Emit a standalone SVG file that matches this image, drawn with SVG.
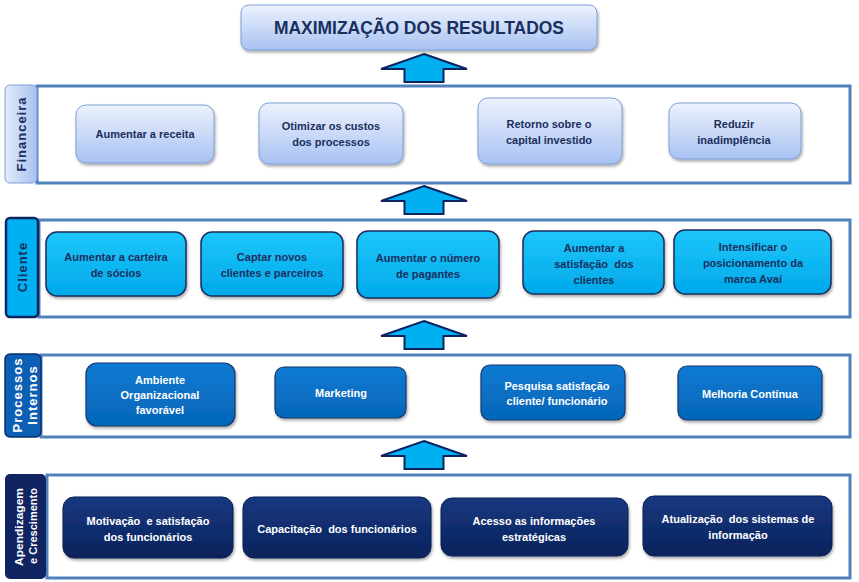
<svg xmlns="http://www.w3.org/2000/svg" width="859" height="582" viewBox="0 0 859 582">
<defs>
<linearGradient id="gLight" x1="0" y1="0" x2="0" y2="1"><stop offset="0" stop-color="#edf2fd"/><stop offset="1" stop-color="#a8c2f2"/></linearGradient>
<linearGradient id="gTabLight" x1="0" y1="0" x2="1" y2="0"><stop offset="0" stop-color="#e3ebfb"/><stop offset="1" stop-color="#a9c1ef"/></linearGradient>
<linearGradient id="gCyan" x1="0" y1="0" x2="0" y2="1"><stop offset="0" stop-color="#1ec6fa"/><stop offset="1" stop-color="#00a9ea"/></linearGradient>
<linearGradient id="gBlue" x1="0" y1="0" x2="0" y2="1"><stop offset="0" stop-color="#0c7ad2"/><stop offset="1" stop-color="#0566b8"/></linearGradient>
<linearGradient id="gNavy" x1="0" y1="0" x2="0" y2="1"><stop offset="0" stop-color="#173880"/><stop offset="1" stop-color="#0b235c"/></linearGradient>
<filter id="sh" x="-10%" y="-10%" width="125%" height="135%"><feDropShadow dx="1" dy="2" stdDeviation="1.5" flood-color="#000" flood-opacity="0.35"/></filter>
<path id="arrow" d="M0,0 L43,15 L19.5,15 L19.5,28 L-19.5,28 L-19.5,15 L-43,15 Z" fill="#00b0f0" stroke="#0b2460" stroke-width="2" stroke-linejoin="miter"/>
</defs>
<style>
.panel{fill:#ffffff;stroke:#4f81bd;stroke-width:3}
.t{font-family:"Liberation Sans",Arial,sans-serif;font-size:11px;font-weight:bold;text-anchor:middle;white-space:pre}
.dk{fill:#1a2f5e}
.wh{fill:#ffffff}
.tab{font-family:"Liberation Sans",Arial,sans-serif;font-size:13px;font-weight:bold;text-anchor:middle;letter-spacing:1px}
.tabs{font-family:"Liberation Sans",Arial,sans-serif;font-size:11px;font-weight:bold;text-anchor:middle}
.nl{fill:url(#gLight);stroke:#7f9fd8;stroke-width:1;filter:url(#sh)}
.nc{fill:url(#gCyan);stroke:#1b2f5e;stroke-width:1.5;filter:url(#sh)}
.nb{fill:url(#gBlue);stroke:#17396e;stroke-width:1.2;filter:url(#sh)}
.nn{fill:url(#gNavy);stroke:#0a1f52;stroke-width:1;filter:url(#sh)}
</style>

<g id="connectors">
<use href="#arrow" x="424" y="54"/>
<use href="#arrow" x="424" y="186"/>
<use href="#arrow" x="424" y="321"/>
<use href="#arrow" x="424" y="441"/>
</g>

<g id="title">
<rect x="241" y="5" width="356" height="45" rx="8" class="nl"/>
<text x="419" y="34" font-family="Liberation Sans, Arial, sans-serif" font-size="19" font-weight="bold" fill="#1a2f5e" text-anchor="middle" textLength="290" lengthAdjust="spacingAndGlyphs">MAXIMIZAÇÃO DOS RESULTADOS</text>
</g>

<g id="layer-financeira">
<rect x="37" y="86" width="813" height="97" class="panel"/>
<rect x="5" y="85" width="32" height="98" rx="5" fill="url(#gTabLight)" stroke="#7f9fd8" stroke-width="1"/>
<text class="tab dk" transform="translate(26,134) rotate(-90)">Financeira</text>
</g>
<g id="n-receita"><rect x="76" y="105" width="138" height="58" rx="10" class="nl"/><text class="t dk" x="145" y="138">Aumentar a receita</text></g>
<g id="n-custos"><rect x="259" y="103" width="144" height="61" rx="10" class="nl"/><text class="t dk" x="331" y="130">Otimizar os custos</text><text class="t dk" x="331" y="146">dos processos</text></g>
<g id="n-retorno"><rect x="478" y="98" width="144" height="66" rx="10" class="nl"/><text class="t dk" x="549" y="128">Retorno sobre o</text><text class="t dk" x="549" y="144">capital investido</text></g>
<g id="n-reduzir"><rect x="669" y="103" width="132" height="56" rx="10" class="nl"/><text class="t dk" x="734" y="128">Reduzir</text><text class="t dk" x="734" y="144">inadimplência</text></g>

<g id="layer-cliente">
<rect x="39" y="220" width="811" height="97" class="panel"/>
<rect x="6" y="218" width="32" height="99" rx="4" fill="#00b0f0" stroke="#0b2460" stroke-width="2.5"/>
<text class="tab dk" transform="translate(27,267) rotate(-90)">Cliente</text>
</g>
<g id="n-carteira"><rect x="46" y="232" width="140" height="64" rx="11" class="nc"/><text class="t dk" x="116" y="261">Aumentar a carteira</text><text class="t dk" x="116" y="277">de sócios</text></g>
<g id="n-captar"><rect x="201" y="232" width="142" height="64" rx="11" class="nc"/><text class="t dk" x="272" y="261">Captar novos</text><text class="t dk" x="272" y="277">clientes e parceiros</text></g>
<g id="n-pagantes"><rect x="357" y="231" width="142" height="67" rx="11" class="nc"/><text class="t dk" x="428" y="262">Aumentar o número</text><text class="t dk" x="428" y="278">de pagantes</text></g>
<g id="n-satisfacao"><rect x="523" y="231" width="141" height="63" rx="11" class="nc"/><text class="t dk" x="594" y="252">Aumentar a</text><text class="t dk" x="594" y="268">satisfação  dos</text><text class="t dk" x="594" y="284">clientes</text></g>
<g id="n-marca"><rect x="674" y="230" width="157" height="64" rx="11" class="nc"/><text class="t dk" x="753" y="251">Intensificar o</text><text class="t dk" x="753" y="267">posicionamento da</text><text class="t dk" x="753" y="283">marca Avaí</text></g>

<g id="layer-processos">
<rect x="41" y="355" width="809" height="82" class="panel"/>
<rect x="5" y="354" width="36" height="83" rx="5" fill="#0c5fb2" stroke="#0b2f6b" stroke-width="1.5"/>
<text class="tab wh" transform="translate(22,395) rotate(-90)">Processos</text>
<text class="tab wh" transform="translate(37,395) rotate(-90)">Internos</text>
</g>
<g id="n-ambiente"><rect x="86" y="363" width="149" height="63" rx="11" class="nb"/><text class="t wh" x="160" y="384">Ambiente</text><text class="t wh" x="160" y="399">Organizacional</text><text class="t wh" x="160" y="414">favorável</text></g>
<g id="n-marketing"><rect x="275" y="367" width="131" height="51" rx="9" class="nb"/><text class="t wh" x="341" y="397">Marketing</text></g>
<g id="n-pesquisa"><rect x="481" y="365" width="144" height="55" rx="9" class="nb"/><text class="t wh" x="557" y="390">Pesquisa satisfação</text><text class="t wh" x="557" y="405">cliente/ funcionário</text></g>
<g id="n-melhoria"><rect x="678" y="366" width="144" height="54" rx="9" class="nb"/><text class="t wh" x="750" y="398">Melhoria Contínua</text></g>

<g id="layer-aprendizagem">
<rect x="47" y="475" width="803" height="103" class="panel"/>
<rect x="5" y="474" width="41" height="105" rx="5" fill="#0f2461"/>
<text class="tabs wh" transform="translate(23,527) rotate(-90)" textLength="78" lengthAdjust="spacingAndGlyphs">Apendizagem</text>
<text class="tabs wh" transform="translate(37,526) rotate(-90)" textLength="76" lengthAdjust="spacingAndGlyphs">e Crescimento</text>
</g>
<g id="n-motivacao"><rect x="63" y="497" width="170" height="61" rx="11" class="nn"/><text class="t wh" x="148" y="525">Motivação  e satisfação</text><text class="t wh" x="148" y="541">dos funcionários</text></g>
<g id="n-capacitacao"><rect x="243" y="497" width="188" height="61" rx="11" class="nn"/><text class="t wh" x="337" y="533">Capacitação  dos funcionários</text></g>
<g id="n-acesso"><rect x="441" y="498" width="187" height="58" rx="11" class="nn"/><text class="t wh" x="534" y="525">Acesso as informações</text><text class="t wh" x="534" y="541">estratégicas</text></g>
<g id="n-atualizacao"><rect x="643" y="496" width="189" height="60" rx="11" class="nn"/><text class="t wh" x="738" y="523">Atualização  dos sistemas de</text><text class="t wh" x="738" y="539">informação</text></g>
</svg>
